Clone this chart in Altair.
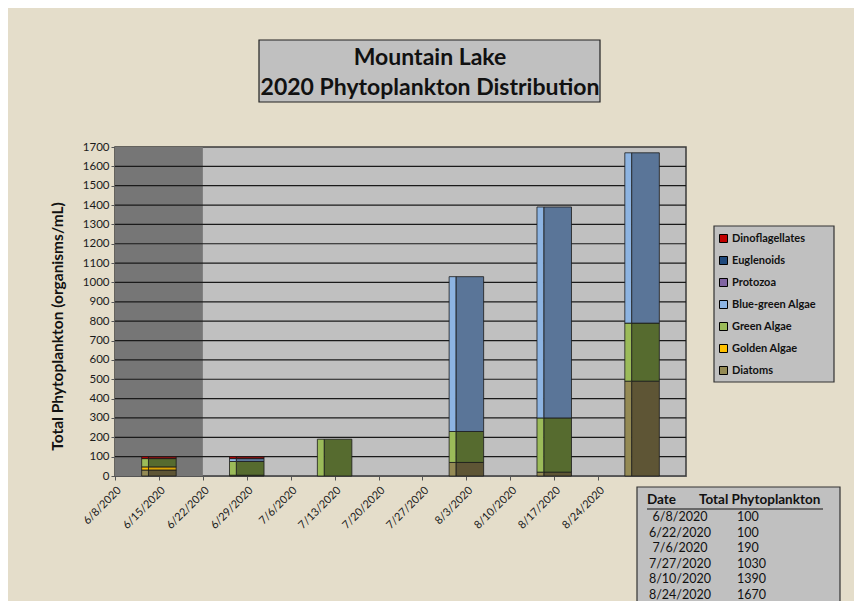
import altair as alt
import pandas as pd

# ---------------- data ----------------
groups = ["Diatoms", "Golden Algae", "Green Algae", "Blue-green Algae",
          "Protozoa", "Euglenoids", "Dinoflagellates"]          # stack order, bottom -> top
legend_colors = ["#948A54", "#FFC000", "#9BBB59", "#8DB4E2", "#8064A2", "#1F497D", "#C00000"]
face_colors = ["#5E5535", "#D9A406", "#566B2F", "#5A7598", "#5F4B7A", "#17375E", "#8B1010"]

sample_dates = ["2020-06-08", "2020-06-22", "2020-07-06", "2020-07-27", "2020-08-10", "2020-08-24"]
table_dates = ["6/8/2020", "6/22/2020", "7/6/2020", "7/27/2020", "8/10/2020", "8/24/2020"]
totals = [100, 100, 190, 1030, 1390, 1670]

diatoms = [31, 4, 0, 70, 20, 490]
golden = [16, 0, 0, 0, 0, 0]
green = [43, 71, 190, 160, 280, 300]
bluegreen = [0, 15, 0, 800, 1090, 880]
protozoa = [0, 0, 0, 0, 0, 0]
euglenoids = [0, 0, 0, 0, 0, 0]
dino = [10, 10, 0, 0, 0, 0]
series = [diatoms, golden, green, bluegreen, protozoa, euglenoids, dino]

tick_dates = ["2020-06-08", "2020-06-15", "2020-06-22", "2020-06-29", "2020-07-06", "2020-07-13",
              "2020-07-20", "2020-07-27", "2020-08-03", "2020-08-10", "2020-08-17", "2020-08-24"]
x_domain = ["2020-06-08", "2020-09-07"]
shade_range = ["2020-06-08", "2020-06-22"]
y_ticks = list(range(0, 1800, 100))

# bars are drawn one week after the sample date in the reference
bar_shift = pd.Timedelta(days=7)
half_w = pd.Timedelta(hours=66)
strip_w = pd.Timedelta(hours=26)

rows = []
for i, d in enumerate(sample_dates):
    c = pd.Timestamp(d) + bar_shift
    cum = 0
    for g, vals in zip(groups, series):
        v = vals[i]
        if v <= 0:
            continue
        rows.append({
            "group": g, "y0": cum, "y1": cum + v,
            "xs0": (c - half_w).isoformat(), "xs1": (c - half_w + strip_w).isoformat(),
            "xm0": (c - half_w + strip_w).isoformat(), "xm1": (c + half_w).isoformat(),
        })
        cum += v
bars = pd.DataFrame(rows)

W, H = 571, 329
FONT = "Lato"

xscale = alt.Scale(domain=x_domain)
yscale = alt.Scale(domain=[0, 1700], nice=False)

x_axis = alt.Axis(values=tick_dates, format="%-m/%-d/%Y", labelAngle=-45, title=None,
                  grid=False, labelFontSize=11, labelFont=FONT, labelColor="#1a1a1a",
                  labelOverlap=False, domainColor="#555", tickColor="#555", tickSize=4,
                  labelPadding=4)
y_axis = alt.Axis(values=y_ticks, format="d", labelOverlap=False,
                  title="Total Phytoplankton (organisms/mL)",
                  titleFont=FONT, titleFontSize=15.5, titleFontWeight="bold",
                  titleColor="#111", titleY=179, titleX=-50,
                  labelFont=FONT, labelFontSize=11.5, labelColor="#1a1a1a",
                  grid=False, domainColor="#555", tickColor="#555", tickSize=4)


def X(field):
    return alt.X(field, scale=xscale, axis=x_axis)


def Y(field):
    return alt.Y(field, scale=yscale, axis=y_axis)


shade_df = pd.DataFrame({"a": [shade_range[0]], "b": [shade_range[1]], "y0": [0], "y1": [1700]})
shade = alt.Chart(shade_df).mark_rect(color="#767676").encode(
    x=X("a:T"), x2="b:T", y=Y("y0:Q"), y2="y1:Q",
)

grid_df = pd.DataFrame({"v": y_ticks[1:-1], "a": x_domain[0], "b": x_domain[1]})
grid = alt.Chart(grid_df).mark_rule(color="#1a1a1a", strokeWidth=1.2).encode(
    x=X("a:T"), x2="b:T", y=Y("v:Q"),
)

strip = alt.Chart(bars).mark_rect(stroke="#1a1a1a", strokeWidth=0.8).encode(
    x=X("xs0:T"), x2="xs1:T", y=Y("y0:Q"), y2="y1:Q",
    color=alt.Color("group:N",
                    scale=alt.Scale(domain=list(reversed(groups)), range=list(reversed(legend_colors))),
                    legend=alt.Legend(title=None, orient="none", legendX=603, legendY=86,
                                      symbolType="square", symbolSize=64,
                                      symbolStrokeColor="#000", symbolStrokeWidth=1,
                                      labelFont=FONT, labelFontSize=11, labelFontWeight="bold",
                                      labelColor="#111", rowPadding=9, labelOffset=3,
                                      padding=0)),
)

main = alt.Chart(bars).mark_rect(stroke="#1a1a1a", strokeWidth=0.8).encode(
    x=X("xm0:T"), x2="xm1:T", y=Y("y0:Q"), y2="y1:Q",
    fill=alt.Fill("group:N", scale=alt.Scale(domain=groups, range=face_colors), legend=None),
)

one = pd.DataFrame({"a": [0]})

# title box
title_box = alt.Chart(one).mark_rect(fill="#C0C0C0", stroke="#222", strokeWidth=1.2).encode(
    x=alt.value(144), x2=alt.value(485), y=alt.value(-107), y2=alt.value(-45))
title_txt = alt.Chart(one).mark_text(font=FONT, fontSize=23, fontWeight="bold", color="#111",
                                     lineBreak="\n", lineHeight=30, baseline="middle").encode(
    x=alt.value(315), y=alt.value(-89),
    text=alt.value("Mountain Lake\n2020 Phytoplankton Distribution"))

# legend box
legend_box = alt.Chart(one).mark_rect(fill="#C0C0C0", stroke="#333", strokeWidth=1.2).encode(
    x=alt.value(599), x2=alt.value(719), y=alt.value(79), y2=alt.value(235))

# summary table
table_box = alt.Chart(one).mark_rect(fill="#C0C0C0", stroke="#333", strokeWidth=1.2).encode(
    x=alt.value(522), x2=alt.value(725), y=alt.value(340), y2=alt.value(480))
hdr1 = alt.Chart(one).mark_text(font=FONT, fontSize=13.5, fontWeight="bold", color="#111",
                                align="left", baseline="middle").encode(
    x=alt.value(532), y=alt.value(353), text=alt.value("Date"))
hdr2 = alt.Chart(one).mark_text(font=FONT, fontSize=13.5, fontWeight="bold", color="#111",
                                align="left", baseline="middle").encode(
    x=alt.value(584), y=alt.value(353), text=alt.value("Total Phytoplankton"))
underline = alt.Chart(one).mark_rule(color="#111", strokeWidth=1).encode(
    x=alt.value(532), x2=alt.value(708), y=alt.value(362))
col_dates = alt.Chart(one).mark_text(font=FONT, fontSize=12.5, color="#111", lineBreak="\n",
                                     lineHeight=15.6, align="center", baseline="top").encode(
    x=alt.value(565), y=alt.value(364), text=alt.value("\n".join(table_dates)))
col_tot = alt.Chart(one).mark_text(font=FONT, fontSize=12.5, color="#111", lineBreak="\n",
                                   lineHeight=15.6, align="left", baseline="top").encode(
    x=alt.value(622), y=alt.value(364), text=alt.value("\n".join(str(t) for t in totals)))

chart = alt.layer(
    shade, grid, main, strip,
    title_box, title_txt, legend_box,
    table_box, hdr1, hdr2, underline, col_dates, col_tot,
).properties(
    width=W, height=H,
    autosize=alt.AutoSizeParams(type="none"),
    padding={"left": 107, "top": 139, "right": 168, "bottom": 125},
    background="#E4DDCA",
).configure_view(
    fill="#C0C0C0", stroke="#3a3a3a", strokeWidth=1.5,
)

chart.save("out.html", embed_options={"renderer": "svg", "actions": False})
